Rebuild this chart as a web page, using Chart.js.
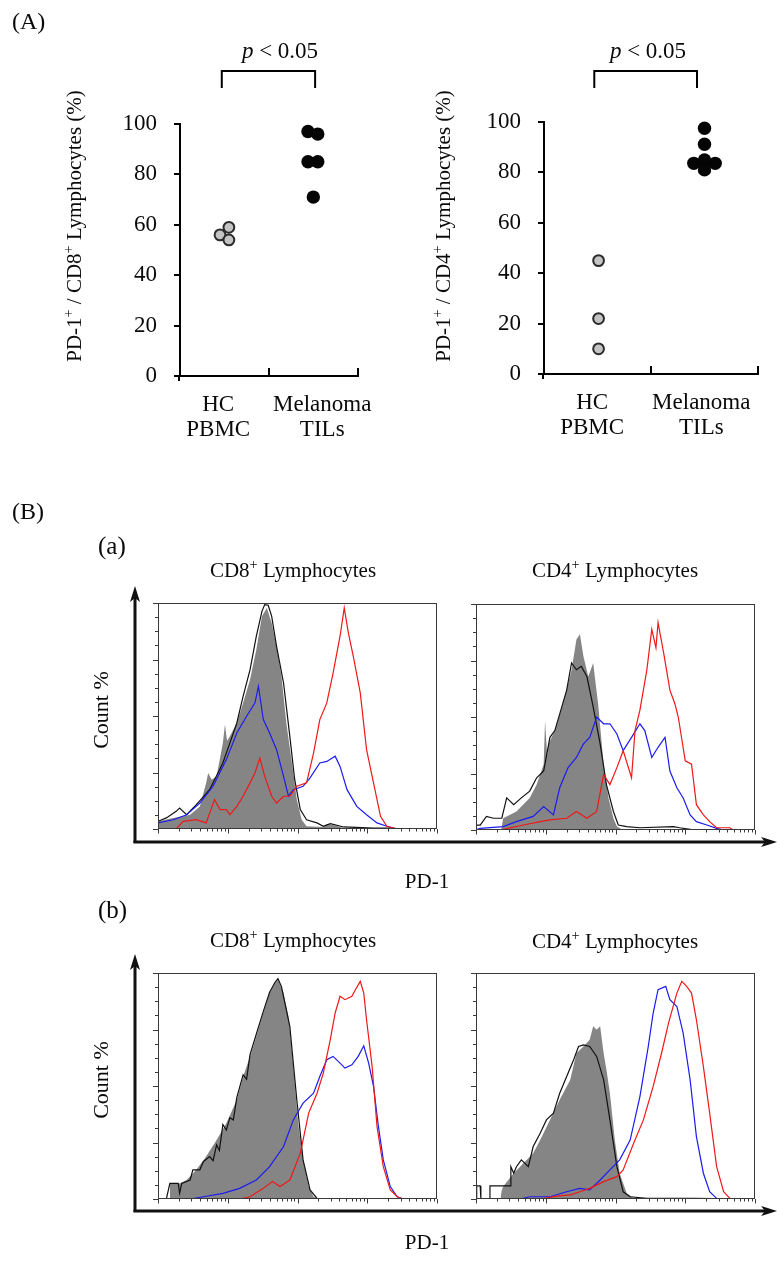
<!DOCTYPE html>
<html>
<head>
<meta charset="utf-8">
<script src="https://cdn.jsdelivr.net/npm/chart.js@4.4.0/dist/chart.umd.min.js"></script>
<style>
  html,body{margin:0;padding:0;background:#fff;}
  body{width:777px;height:1263px;position:relative;overflow:hidden;
       font-family:'Liberation Serif','Times New Roman',serif;color:#0a0a0a;}
  canvas{position:absolute;}
  .t{position:absolute;white-space:nowrap;line-height:1;transform:translate(-50%,-50%);}
  .l{position:absolute;white-space:nowrap;line-height:1;transform:translate(0,-50%);}
  .r{position:absolute;white-space:nowrap;line-height:1;transform:translate(-50%,-50%) rotate(-90deg);}
  .sp{font-size:0.68em;position:relative;top:-0.55em;}
</style>
</head>
<body>
<canvas id="aL" width="390" height="460" style="left:0;top:0"></canvas>
<canvas id="aR" width="387" height="460" style="left:390px;top:0"></canvas>
<canvas id="h1" width="303" height="246" style="left:146px;top:597px"></canvas>
<canvas id="h2" width="303" height="246" style="left:464px;top:598px"></canvas>
<canvas id="h3" width="303" height="246" style="left:146px;top:967px"></canvas>
<canvas id="h4" width="303" height="246" style="left:464px;top:967px"></canvas>

<svg width="777" height="1263" style="position:absolute;left:0;top:0" xmlns="http://www.w3.org/2000/svg">
  <g stroke="#111" stroke-width="3" fill="none">
    <line x1="135" y1="843" x2="135" y2="598"/>
    <line x1="133.5" y1="842" x2="766" y2="842"/>
    <line x1="135" y1="1212" x2="135" y2="966"/>
    <line x1="133.5" y1="1211" x2="766" y2="1211"/>
  </g>
  <g fill="#111">
    <polygon points="135,586 130,602 135,598 140,602"/>
    <polygon points="777,842 761,837 765,842 761,847"/>
    <polygon points="135,954 130,970 135,966 140,970"/>
    <polygon points="777,1211 761,1206 765,1211 761,1216"/>
  </g>
</svg>

<div class="l" style="left:12px;top:21px;font-size:24px">(A)</div>
<div class="t" style="left:280px;top:50px;font-size:23px"><i>p</i> &lt; 0.05</div>
<div class="t" style="left:648px;top:50px;font-size:23px"><i>p</i> &lt; 0.05</div>
<div class="r" style="left:74px;top:226px;font-size:21px">PD-1<span class="sp">+</span> / CD8<span class="sp">+</span> Lymphocytes (%)</div>
<div class="r" style="left:443px;top:226px;font-size:21px">PD-1<span class="sp">+</span> / CD4<span class="sp">+</span> Lymphocytes (%)</div>

<div class="l" style="left:12px;top:511px;font-size:24px">(B)</div>
<div class="l" style="left:98px;top:545px;font-size:25px">(a)</div>
<div class="t" style="left:293px;top:570px;font-size:21px">CD8<span class="sp">+</span> Lymphocytes</div>
<div class="t" style="left:615px;top:570px;font-size:21px">CD4<span class="sp">+</span> Lymphocytes</div>
<div class="r" style="left:101px;top:710px;font-size:22px">Count %</div>
<div class="t" style="left:427px;top:881px;font-size:21px">PD-1</div>

<div class="l" style="left:98px;top:909px;font-size:25px">(b)</div>
<div class="t" style="left:293px;top:940px;font-size:21px">CD8<span class="sp">+</span> Lymphocytes</div>
<div class="t" style="left:615px;top:941px;font-size:21px">CD4<span class="sp">+</span> Lymphocytes</div>
<div class="r" style="left:101px;top:1080px;font-size:22px">Count %</div>
<div class="t" style="left:427px;top:1242px;font-size:21px">PD-1</div>

<script>
// ---------------- Panel (A) data ----------------
const categories = [['HC', 'PBMC'], ['Melanoma', 'TILs']];
const yTicksA = [0, 20, 40, 60, 80, 100];

// PD-1+ / CD8+ (%)
const cd8HC_x  = [0.45, 0.55, 0.55];
const cd8HC_y  = [56, 59, 54];
const cd8Mel_x = [1.44, 1.55, 1.44, 1.55, 1.50];
const cd8Mel_y = [97, 96, 85, 85, 71];

// PD-1+ / CD4+ (%)
const cd4HC_x  = [0.51, 0.51, 0.51];
const cd4HC_y  = [45, 22, 10];
const cd4Mel_x = [1.50, 1.50, 1.40, 1.60, 1.50, 1.50];
const cd4Mel_y = [97.5, 91.2, 83.6, 83.6, 84.9, 81.0];

// ---------------- Panel (B) histogram data (x = log10 PD-1 intensity, y = Count %) ----------------
// (a) CD8+
const a8_grayX  = [0.00,0.22,0.46,0.60,0.69,0.72,0.77,0.84,0.93,0.96,0.99,1.03,1.13,1.22,1.32,1.41,1.49,1.56,1.63,1.70,1.77,1.84,1.92,1.99,2.06,2.13,2.37,2.42,2.54,2.66,3.00,4.00];
const a8_grayY  = [3.4,4.9,6.3,10.0,20.4,24.8,21.8,23.3,38.1,46.2,39.0,41.0,46.9,55.8,66.1,79.4,94.1,97.8,91.2,80.8,67.6,46.9,29.2,13.0,4.1,1.2,0.9,2.2,1.5,0.4,0.2,0];
const a8_blackX = [0.00,0.12,0.26,0.31,0.41,0.55,0.74,0.93,1.03,1.13,1.22,1.32,1.41,1.49,1.53,1.58,1.63,1.70,1.80,1.89,1.96,2.04,2.13,2.28,2.37,2.47,2.66,3.09,3.33,3.50];
const a8_blackY = [3.4,4.9,7.8,9.3,6.3,10.8,17.4,29.2,38.0,46.9,58.7,70.5,85.3,96.3,99.3,99.0,94.1,80.8,64.6,41.0,21.8,8.6,4.1,2.7,1.2,2.4,0.9,0.4,0.4,0];
const a8_blueX  = [0.00,0.22,0.41,0.60,0.79,0.98,1.13,1.27,1.39,1.44,1.51,1.60,1.70,1.80,1.87,1.94,2.08,2.18,2.32,2.42,2.54,2.61,2.71,2.85,2.99,3.14,3.28,3.43];
const a8_blueY  = [2.7,4.1,6.3,11.5,18.9,30.7,42.5,49.9,55.8,63.1,48.4,42.5,35.1,23.3,14.5,17.4,18.9,22.6,29.2,29.9,32.2,27.7,17.4,10.0,6.3,2.7,1.2,0];
const a8_redX   = [0.26,0.36,0.55,0.69,0.81,0.89,0.98,1.03,1.13,1.22,1.32,1.39,1.46,1.53,1.63,1.70,1.80,1.89,1.99,2.13,2.23,2.32,2.42,2.51,2.61,2.67,2.73,2.80,2.90,2.99,3.09,3.19,3.28,3.43];
const a8_redY   = [0,3.4,4.1,2.7,13.0,8.6,8.6,6.3,10.0,14.5,20.4,24.8,31.4,23.3,14.5,11.5,14.5,14.5,18.9,20.4,33.6,48.4,55.8,69.0,85.3,97.8,86.7,76.4,60.2,35.1,20.4,5.6,1.2,0];

// (a) CD4+
const a4_grayX  = [0.36,0.39,0.58,0.77,0.87,0.97,0.99,1.02,1.04,1.13,1.25,1.37,1.44,1.49,1.54,1.61,1.68,1.75,1.83,1.90,1.97,2.02,2.09,2.50];
const a4_grayY  = [0,5.2,8.2,14.2,20.1,29.1,48.5,33.0,38.1,44.0,56.0,70.9,84.3,86.6,76.9,67.9,73.9,56.0,29.1,14.2,5.2,1.5,0.3,0];
const a4_blackX = [0.00,0.06,0.15,0.25,0.37,0.44,0.54,0.65,0.77,0.87,0.97,1.06,1.13,1.23,1.30,1.37,1.44,1.51,1.59,1.68,1.78,1.87,1.97,2.04,2.16,2.35,2.83,2.92,3.07,3.12];
const a4_blackY = [2.2,2.2,6.0,5.2,5.2,14.2,11.2,14.2,17.2,23.1,26.1,41.0,44.0,54.5,61.9,73.9,70.9,72.4,67.9,54.5,38.1,20.1,8.2,2.2,1.5,1.0,1.5,1.0,0.3,0];
const a4_blueX  = [0.00,0.06,0.39,0.58,0.82,0.97,1.11,1.20,1.32,1.44,1.54,1.63,1.73,1.83,1.92,2.02,2.11,2.23,2.35,2.42,2.52,2.61,2.71,2.78,2.88,2.97,3.07,3.16,3.31,3.45,3.55];
const a4_blueY  = [0,0.7,1.5,3.7,6.0,10.4,6.7,18.7,27.6,32.1,38.1,41.0,50.0,47.0,47.0,42.5,35.1,41.0,47.0,44.0,32.1,36.6,41.0,26.1,18.7,14.2,6.7,3.7,2.2,0.7,0];
const a4_redX   = [0.39,0.68,0.92,1.06,1.30,1.44,1.59,1.73,1.83,1.92,2.02,2.11,2.23,2.28,2.35,2.45,2.52,2.58,2.61,2.69,2.78,2.85,2.90,3.00,3.09,3.16,3.26,3.35,3.45,3.64,3.69];
const a4_redY   = [0.3,2.2,3.7,4.5,5.2,8.2,5.2,8.2,24.6,20.1,27.6,35.1,23.1,44.0,53.0,70.9,88.8,80.6,91.8,78.4,61.9,56.0,50.0,30.6,29.1,11.2,6.7,3.7,1.0,1.0,0];

// (b) CD8+
const b8_grayX  = [0.17,0.17,0.31,0.41,0.55,0.69,0.84,0.98,1.13,1.22,1.32,1.41,1.51,1.60,1.68,1.72,1.80,1.87,1.94,2.01,2.08,2.16,2.23,2.32];
const b8_grayY  = [0,6.9,6.9,8.4,12.9,18.8,26.1,33.5,43.9,54.2,63.0,71.9,82.3,91.1,95.6,97.0,91.1,80.8,58.6,33.5,17.3,5.5,1.0,0];
const b8_blackX = [0.12,0.17,0.29,0.31,0.34,0.46,0.50,0.60,0.65,0.74,0.79,0.84,0.88,0.93,0.98,1.03,1.08,1.13,1.22,1.27,1.32,1.41,1.51,1.60,1.68,1.72,1.77,1.89,1.99,2.08,2.18,2.28,2.50];
const b8_blackY = [0,6.9,6.9,2.5,6.9,8.4,12.9,12.9,16.5,18.8,17.0,24.0,21.5,33.0,30.5,36.0,35.0,45.0,55.0,53.0,64.0,73.0,83.0,91.5,96.0,97.5,94.0,76.4,43.9,17.3,4.0,0.3,0];
const b8_blueX  = [0.46,0.65,0.93,1.17,1.41,1.60,1.80,1.94,2.08,2.23,2.32,2.42,2.51,2.61,2.68,2.78,2.87,2.95,3.02,3.09,3.16,3.23,3.33,3.43,3.52];
const b8_blueY  = [0,1.0,2.5,4.7,8.4,14.3,23.2,35.0,42.4,46.8,54.2,61.6,63.1,60.1,57.9,59.4,63.1,67.8,60.1,49.8,32.1,17.3,5.5,1.0,0];
const b8_redX   = [1.17,1.32,1.51,1.64,1.75,1.89,2.04,2.16,2.28,2.37,2.47,2.54,2.61,2.68,2.78,2.83,2.90,2.95,2.99,3.07,3.14,3.23,3.33,3.43,3.52];
const b8_redY   = [0,1.0,4.7,7.7,5.5,8.4,20.2,38.0,46.8,55.7,70.5,82.3,89.7,88.2,89.7,92.6,96.3,91.1,79.3,58.6,32.1,14.3,4.0,1.0,0];

// (b) CD4+
const b4_grayX  = [0.35,0.37,0.39,0.54,0.68,0.82,0.92,1.06,1.20,1.35,1.44,1.54,1.63,1.68,1.73,1.78,1.83,1.87,1.92,1.99,2.06,2.16,2.26,2.50];
const b4_grayY  = [0,4.0,5.5,11.4,15.8,20.2,26.1,35.0,43.9,52.7,64.5,67.5,70.5,76.4,74.9,76.4,64.5,57.2,46.8,26.1,11.4,2.5,0.3,0];
const b4_blackX = [0.00,0.01,0.06,0.07,0.20,0.20,0.34,0.35,0.49,0.50,0.54,0.58,0.65,0.75,0.82,0.92,1.01,1.11,1.20,1.30,1.40,1.47,1.54,1.63,1.73,1.83,1.92,2.02,2.11,2.21,2.45,3.12,4.00];
const b4_blackY = [0,5.8,5.8,0,0,5.8,5.8,5.8,5.8,14.3,11.4,14.3,17.3,14.3,23.2,29.1,35.0,38.0,46.8,54.2,61.6,67.5,68.2,67.5,63.1,52.7,35.0,14.3,3.2,1.0,0.3,0.3,0];
const b4_blueX  = [0.63,0.77,1.06,1.30,1.49,1.63,1.78,1.92,2.06,2.21,2.35,2.47,2.54,2.61,2.72,2.78,2.88,2.97,3.07,3.16,3.26,3.35,3.45];
const b4_blueY  = [0,1.0,1.0,3.2,4.7,4.0,8.4,12.9,17.3,26.1,45.3,67.5,82.3,92.6,94.1,88.2,85.2,73.4,52.7,27.6,11.4,3.2,0.3];
const b4_redX   = [0.92,1.16,1.35,1.49,1.63,1.83,2.02,2.11,2.26,2.40,2.54,2.66,2.76,2.88,2.95,3.02,3.09,3.16,3.26,3.35,3.45,3.55,3.64];
const b4_redY   = [0,1.3,1.8,3.2,4.7,7.7,9.9,12.9,24.7,35.0,49.8,64.5,77.8,91.1,96.3,94.1,91.1,79.3,58.6,38.0,14.3,3.2,0.3];

// ---------------- helpers ----------------
const SERIF = "'Liberation Serif','Times New Roman',serif";
Chart.defaults.font.family = SERIF;
Chart.defaults.color = '#0a0a0a';
const pts = (xs, ys) => xs.map((x, i) => ({ x: x, y: ys[i] }));

const panelAMarks = {
  id: 'panelAMarks',
  afterDraw(chart) {
    const { ctx, chartArea: a, scales: { x } } = chart;
    const o = chart.options.plugins.panelAMarks;
    ctx.save();
    ctx.strokeStyle = '#000';
    ctx.lineWidth = 2;
    ctx.beginPath();
    [1, 2].forEach(v => {
      const px = Math.round(x.getPixelForValue(v));
      ctx.moveTo(px, a.bottom + 1);
      ctx.lineTo(px, a.bottom - 8);
    });
    ctx.moveTo(a.left - 1, a.bottom);
    ctx.lineTo(a.left - 1, a.bottom + 5);
    const x0 = x.getPixelForValue(o.bracket[0]);
    const x1 = x.getPixelForValue(o.bracket[1]);
    ctx.moveTo(x0, o.bracketY[1]);
    ctx.lineTo(x0, o.bracketY[0]);
    ctx.lineTo(x1, o.bracketY[0]);
    ctx.lineTo(x1, o.bracketY[1]);
    ctx.stroke();
    ctx.restore();
  }
};

function scatterChart(id, hcX, hcY, melX, melY, cfg) {
  return new Chart(document.getElementById(id), {
    type: 'scatter',
    data: {
      datasets: [
        { data: pts(hcX, hcY), pointRadius: 5.4, pointBorderWidth: 2,
          pointBackgroundColor: '#c4c4c4', pointBorderColor: '#2b2b2b', clip: false },
        { data: pts(melX, melY), pointRadius: 6.7, pointBorderWidth: 0,
          pointBackgroundColor: '#050505', pointBorderColor: '#050505', clip: false }
      ]
    },
    options: {
      responsive: false, animation: false, devicePixelRatio: 1, events: [],
      layout: { padding: cfg.pad },
      plugins: { legend: { display: false }, tooltip: { enabled: false },
                 panelAMarks: { bracket: cfg.bracket, bracketY: [71, 88] } },
      scales: {
        x: {
          type: 'linear', min: 0, max: 2,
          afterFit: s => { s.height = cfg.xh; },
          afterBuildTicks: s => { s.ticks = cfg.labelPos.map(v => ({ value: v })); },
          grid: { display: false, drawTicks: false },
          border: { display: true, width: 2, color: '#000' },
          ticks: { autoSkip: false, maxRotation: 0, minRotation: 0, padding: 16,
                   font: { size: 23, lineHeight: 1.1 }, color: '#0a0a0a',
                   callback: (v, i) => categories[i] }
        },
        y: {
          type: 'linear', min: 0, max: 100,
          afterFit: s => { s.width = cfg.yw; },
          afterBuildTicks: s => { s.ticks = yTicksA.map(v => ({ value: v })); },
          ticks: { padding: 17, font: { size: 23 }, color: '#0a0a0a' },
          grid: { drawOnChartArea: false, drawTicks: true, tickLength: 6, lineWidth: 2, color: '#000' },
          border: { display: true, width: 2, color: '#000' }
        }
      }
    },
    plugins: [panelAMarks]
  });
}

scatterChart('aL', cd8HC_x, cd8HC_y, cd8Mel_x, cd8Mel_y,
  { pad: { left: 0, right: 13, top: 124, bottom: 0 }, yw: 180, xh: 84,
    labelPos: [0.43, 1.60], bracket: [0.47, 1.52] });
scatterChart('aR', cd4HC_x, cd4HC_y, cd4Mel_x, cd4Mel_y,
  { pad: { left: 0, right: 19, top: 122, bottom: 0 }, yw: 154, xh: 86,
    labelPos: [0.45, 1.47], bracket: [0.47, 1.43] });

// ---------------- histograms ----------------
const histFrame = {
  id: 'histFrame',
  afterDatasetsDraw(chart) {
    const { ctx, chartArea: a, scales: { x, y } } = chart;
    ctx.save();
    ctx.strokeStyle = '#3a3a3a';
    ctx.lineWidth = 1;
    ctx.strokeRect(a.left + 0.5, a.top + 0.5, a.right - a.left - 1, a.bottom - a.top - 1);
    ctx.beginPath();
    for (let v = 0; v <= 100; v += 6.25) {
      const py = Math.round(y.getPixelForValue(v)) + 0.5;
      const len = (v % 25 === 0) ? 5 : 3;
      ctx.moveTo(a.left, py);
      ctx.lineTo(a.left - len, py);
    }
    for (let d = 0; d <= 4; d++) {
      for (let k = 1; k <= 9; k++) {
        if (d === 4 && k > 1) break;
        const px = Math.round(x.getPixelForValue(d + Math.log10(k))) + 0.5;
        const len = k === 1 ? 4.5 : 2.5;
        ctx.moveTo(px, a.bottom);
        ctx.lineTo(px, a.bottom + len);
      }
    }
    ctx.stroke();
    ctx.restore();
  }
};

function histChart(id, gX, gY, kX, kY, bX, bY, rX, rY) {
  const line = (xs, ys, color, order) => ({
    data: pts(xs, ys), showLine: true, borderColor: color, borderWidth: 1.2,
    pointRadius: 0, fill: false, tension: 0, order: order
  });
  return new Chart(document.getElementById(id), {
    type: 'scatter',
    data: {
      datasets: [
        line(rX, rY, '#f01818', 1),
        line(bX, bY, '#1c1cf0', 2),
        line(kX, kY, '#111111', 3),
        { data: pts(gX, gY), showLine: true, borderWidth: 0, borderColor: 'rgba(0,0,0,0)',
          backgroundColor: '#858585', fill: 'origin', pointRadius: 0, tension: 0, order: 4 }
      ]
    },
    options: {
      responsive: false, animation: false, devicePixelRatio: 1, events: [],
      layout: { padding: { left: 12, top: 6, right: 12, bottom: 14 } },
      plugins: { legend: { display: false }, tooltip: { enabled: false } },
      scales: {
        x: { type: 'linear', display: false, min: 0, max: 4 },
        y: { type: 'linear', display: false, min: 0, max: 100 }
      }
    },
    plugins: [histFrame]
  });
}

histChart('h1', a8_grayX, a8_grayY, a8_blackX, a8_blackY, a8_blueX, a8_blueY, a8_redX, a8_redY);
histChart('h2', a4_grayX, a4_grayY, a4_blackX, a4_blackY, a4_blueX, a4_blueY, a4_redX, a4_redY);
histChart('h3', b8_grayX, b8_grayY, b8_blackX, b8_blackY, b8_blueX, b8_blueY, b8_redX, b8_redY);
histChart('h4', b4_grayX, b4_grayY, b4_blackX, b4_blackY, b4_blueX, b4_blueY, b4_redX, b4_redY);
</script>
</body>
</html>
